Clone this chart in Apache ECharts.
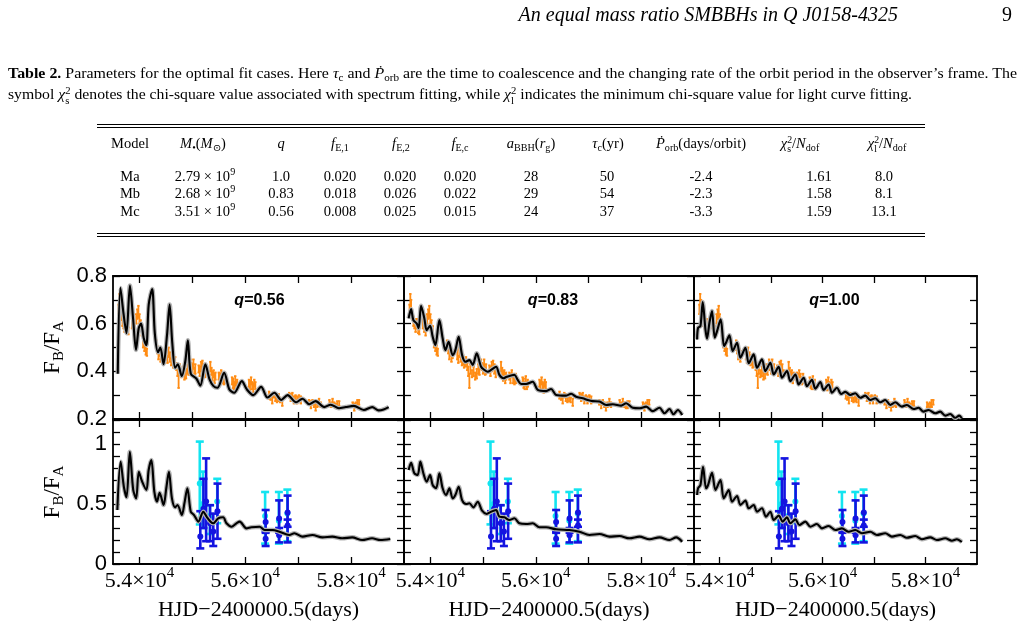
<!DOCTYPE html>
<html>
<head>
<meta charset="utf-8">
<title>Equal mass ratio SMBBHs in Q J0158-4325</title>
<script src="https://cdn.jsdelivr.net/npm/echarts@6/dist/echarts.min.js"></script>
<style>
html,body{margin:0;padding:0;background:#fff;}
#page{position:relative;width:1025px;height:637px;overflow:hidden;font-family:"Liberation Serif","DejaVu Serif",serif;color:#000;}
#chart{position:absolute;left:0;top:0;width:1025px;height:637px;z-index:1;}
.t{position:absolute;white-space:nowrap;z-index:2;line-height:18px;font-size:14.5px;}
.c{transform:translateX(-50%);}
.cap{font-size:15.5px;transform-origin:0 50%;}
.rule{position:absolute;left:97px;width:828px;height:0;border-top:1px solid #000;z-index:2;}
sub,sup{font-size:0.7em;line-height:0;}
sub{vertical-align:-0.3em;}
sup{vertical-align:0.55em;}
.ss{display:inline-block;font-size:0.68em;line-height:0.95em;vertical-align:-0.45em;text-align:left;}
</style>
</head>
<body>
<div id="page">
  <div id="chart"></div>
  <div class="t" style="right:127px;top:2px;font-size:20px;line-height:24px;font-style:italic;">An equal mass ratio SMBBHs in Q J0158-4325</div>
  <div class="t" style="right:13px;top:2px;font-size:20px;line-height:24px;">9</div>
  <div class="t cap" id="cap1" style="left:8px;top:64px;"><b>Table 2.</b> Parameters for the optimal fit cases. Here <i>τ</i><sub>c</sub> and <i>Ṗ</i><sub>orb</sub> are the time to coalescence and the changing rate of the orbit period in the observer’s frame. The</div>
  <div class="t cap" id="cap2" style="left:8px;top:85px;">symbol <i>χ</i><span class="ss">2<br>s</span> denotes the chi-square value associated with spectrum fitting, while <i>χ</i><span class="ss">2<br>l</span> indicates the minimum chi-square value for light curve fitting.</div>
  <div class="rule" style="top:124px;"></div>
  <div class="rule" style="top:127px;"></div>
  <div class="rule" style="top:233px;"></div>
  <div class="rule" style="top:236px;"></div>
  <div id="table"></div>
</div>
<script>
// ---------------- table values ----------------
const tableHead = ['Model', '<i>M</i><sub>•</sub>(<i>M</i><sub>⊙</sub>)', '<i>q</i>', '<i>f</i><sub>E,1</sub>', '<i>f</i><sub>E,2</sub>', '<i>f</i><sub>E,c</sub>', '<i>a</i><sub>BBH</sub>(<i>r</i><sub>g</sub>)', '<i>τ</i><sub>c</sub>(yr)', '<i>Ṗ</i><sub>orb</sub>(days/orbit)', '<i>χ</i><span class="ss">2<br>s</span>/<i>N</i><sub>dof</sub>', '<i>χ</i><span class="ss">2<br>l</span>/<i>N</i><sub>dof</sub>'];
const modelNames = ['Ma', 'Mb', 'Mc'];
const massMantissa = ['2.79', '2.68', '3.51'];
const massExponent = ['9', '9', '9'];
const qValues = ['1.0', '0.83', '0.56'];
const fE1 = ['0.020', '0.018', '0.008'];
const fE2 = ['0.020', '0.026', '0.025'];
const fEc = ['0.020', '0.022', '0.015'];
const aBBH = ['28', '29', '24'];
const tauC = ['50', '54', '37'];
const pDot = ['-2.4', '-2.3', '-3.3'];
const chiS = ['1.61', '1.58', '1.59'];
const chiL = ['8.0', '8.1', '13.1'];

// ---------------- chart values ----------------
const xTicks = [54000, 55000, 56000, 57000, 58000];
const xLabelValues = [54000, 56000, 58000];
const panelQ = ['0.56', '0.83', '1.00'];

// model light-curve ratio (top row)
const lcModel056 = [[53590,0.39],[53640,0.75],[53700,0.64],[53755,0.56],[53820,0.76],[53880,0.62],[53935,0.49],[53985,0.58],[54030,0.60],[54080,0.54],[54130,0.51],[54175,0.68],[54240,0.745],[54290,0.56],[54350,0.48],[54395,0.50],[54455,0.43],[54520,0.55],[54570,0.68],[54620,0.52],[54675,0.415],[54725,0.43],[54800,0.38],[54865,0.44],[54915,0.53],[54970,0.39],[55075,0.37],[55150,0.34],[55245,0.43],[55325,0.366],[55400,0.338],[55475,0.331],[55600,0.394],[55700,0.324],[55790,0.31],[55935,0.359],[56030,0.324],[56150,0.30],[56300,0.335],[56420,0.29],[56550,0.31],[56680,0.28],[56800,0.30],[56960,0.27],[57080,0.285],[57210,0.262],[57330,0.275],[57490,0.25],[57615,0.26],[57770,0.245],[57900,0.25],[58050,0.255],[58240,0.238],[58400,0.25],[58520,0.236],[58615,0.24],[58710,0.25]];
const lcModel083 = [[53588,0.622],[53634,0.661],[53677,0.615],[53740,0.601],[53778,0.581],[53824,0.675],[53886,0.622],[53930,0.573],[53994,0.591],[54044,0.545],[54095,0.51],[54171,0.615],[54233,0.539],[54285,0.489],[54347,0.524],[54423,0.468],[54474,0.489],[54537,0.545],[54602,0.468],[54664,0.44],[54740,0.447],[54803,0.427],[54879,0.476],[54962,0.419],[55025,0.406],[55087,0.398],[55152,0.406],[55247,0.419],[55309,0.385],[55385,0.371],[55448,0.377],[55594,0.385],[55657,0.364],[55721,0.347],[55816,0.347],[55941,0.356],[56036,0.322],[56195,0.317],[56290,0.326],[56385,0.301],[56575,0.298],[56670,0.306],[56765,0.293],[56890,0.287],[56985,0.28],[57080,0.275],[57207,0.273],[57334,0.259],[57459,0.262],[57619,0.256],[57713,0.266],[57839,0.247],[57966,0.245],[58093,0.252],[58218,0.233],[58345,0.247],[58440,0.224],[58535,0.242],[58611,0.22],[58693,0.238],[58776,0.217]];
const lcModel100 = [[53560,0.534],[53579,0.583],[53625,0.59],[53670,0.691],[53722,0.576],[53753,0.537],[53800,0.604],[53850,0.653],[53903,0.541],[53948,0.569],[54019,0.618],[54083,0.506],[54122,0.52],[54188,0.551],[54252,0.485],[54336,0.52],[54402,0.457],[54499,0.499],[54563,0.434],[54660,0.471],[54724,0.415],[54821,0.45],[54887,0.401],[54984,0.436],[55049,0.387],[55146,0.419],[55210,0.373],[55307,0.401],[55373,0.359],[55470,0.387],[55534,0.345],[55631,0.373],[55695,0.338],[55792,0.364],[55858,0.327],[55955,0.355],[56019,0.322],[56117,0.345],[56181,0.31],[56278,0.331],[56360,0.305],[56441,0.314],[56538,0.301],[56635,0.308],[56732,0.289],[56829,0.298],[56926,0.28],[57023,0.287],[57120,0.27],[57217,0.28],[57315,0.259],[57412,0.27],[57540,0.252],[57637,0.259],[57767,0.242],[57864,0.247],[57961,0.231],[58058,0.238],[58188,0.224],[58285,0.231],[58383,0.214],[58480,0.221],[58577,0.205],[58654,0.214],[58705,0.203]];

// model spectral ratio (bottom row)
const spModel056 = [[53582,0.45],[53644,0.853],[53705,0.644],[53756,0.556],[53818,0.936],[53882,0.617],[53938,0.547],[53987,0.769],[54051,0.686],[54131,0.617],[54174,0.783],[54225,0.867],[54281,0.603],[54332,0.519],[54381,0.594],[54456,0.492],[54507,0.631],[54557,0.769],[54614,0.547],[54675,0.472],[54719,0.492],[54801,0.408],[54850,0.506],[54906,0.631],[54970,0.436],[55032,0.408],[55113,0.353],[55206,0.436],[55270,0.394],[55345,0.353],[55394,0.339],[55488,0.381],[55582,0.389],[55645,0.339],[55739,0.311],[55833,0.339],[55895,0.353],[56021,0.297],[56115,0.306],[56270,0.311],[56364,0.283],[56520,0.283],[56645,0.269],[56833,0.242],[56927,0.256],[57083,0.228],[57270,0.242],[57458,0.222],[57645,0.228],[57833,0.214],[58021,0.222],[58208,0.2],[58396,0.214],[58553,0.2],[58741,0.208]];
const spModel083 = [[53588,0.783],[53634,0.844],[53696,0.756],[53759,0.742],[53810,0.853],[53867,0.756],[53930,0.686],[53994,0.742],[54044,0.658],[54108,0.631],[54171,0.756],[54233,0.631],[54298,0.575],[54361,0.631],[54423,0.547],[54474,0.575],[54537,0.644],[54602,0.533],[54677,0.5],[54740,0.506],[54816,0.472],[54898,0.519],[54981,0.444],[55068,0.417],[55152,0.436],[55247,0.45],[55309,0.394],[55404,0.389],[55499,0.367],[55594,0.381],[55689,0.339],[55816,0.333],[55941,0.339],[56068,0.306],[56195,0.306],[56385,0.289],[56638,0.283],[56827,0.269],[57017,0.242],[57207,0.25],[57397,0.228],[57586,0.233],[57776,0.214],[57966,0.228],[58156,0.206],[58345,0.222],[58535,0.2],[58662,0.222],[58776,0.186]];
const spModel100 = [[53560,0.575],[53579,0.631],[53625,0.658],[53676,0.811],[53734,0.631],[53773,0.658],[53850,0.761],[53917,0.617],[54014,0.7],[54078,0.547],[54175,0.617],[54239,0.519],[54336,0.567],[54402,0.492],[54499,0.528],[54563,0.464],[54660,0.492],[54724,0.436],[54821,0.464],[54899,0.394],[54984,0.436],[55049,0.367],[55146,0.403],[55223,0.353],[55307,0.389],[55373,0.339],[55470,0.372],[55548,0.325],[55664,0.353],[55761,0.311],[55889,0.333],[55986,0.297],[56117,0.317],[56247,0.283],[56375,0.297],[56505,0.269],[56635,0.283],[56763,0.256],[56926,0.269],[57054,0.242],[57217,0.256],[57346,0.228],[57509,0.242],[57637,0.219],[57800,0.233],[57928,0.206],[58091,0.222],[58219,0.2],[58383,0.214],[58511,0.194],[58608,0.206],[58705,0.183]];

// observed light-curve ratio (orange)
const obsT = [53605,53620,53635,53650,53665,53680,53700,53720,53745,53770,53790,
  53860,53885,53910,53940,53960,53980,54000,54020,54045,54070,54095,54120,54140,
  54320,54340,54360,54380,54400,54420,
  54510,54530,54550,54575,54600,54620,54640,
  54675,54700,54720,54740,54760,54790,54820,54850,54880,54910,54930,
  54960,54980,55000,55020,55040,55055,
  55120,55140,55165,55190,55215,55240,
  55340,55360,55380,55400,55420,55435,
  55500,55520,55545,55570,55595,55620,
  55750,55770,55790,55810,55830,55845,
  56070,56090,56110,56130,56150,56170,56190,
  56450,56480,56510,56540,56570,56600,56630,56660,56700,
  56830,56860,56890,56920,56950,56980,57015,57050,
  57205,57240,57270,57300,57330,57360,57395,57425,
  57590,57620,57650,57680,57710,57740,57775,
  58030,58060,58090,58120,58150];
const obsF = [0.66,0.70,0.68,0.64,0.63,0.61,0.60,0.58,0.60,0.58,0.57,
  0.60,0.58,0.57,0.62,0.64,0.65,0.62,0.60,0.57,0.52,0.50,0.49,0.48,
  0.51,0.49,0.47,0.48,0.46,0.47,
  0.47,0.45,0.48,0.46,0.44,0.45,0.43,
  0.44,0.42,0.40,0.36,0.41,0.39,0.40,0.38,0.39,0.41,0.40,
  0.43,0.42,0.41,0.43,0.40,0.41,
  0.41,0.40,0.42,0.43,0.41,0.39,
  0.42,0.40,0.38,0.39,0.37,0.38,
  0.38,0.37,0.39,0.37,0.36,0.37,
  0.36,0.35,0.34,0.36,0.34,0.35,
  0.35,0.34,0.36,0.34,0.33,0.35,0.34,
  0.30,0.29,0.28,0.30,0.29,0.28,0.29,0.28,0.27,
  0.30,0.29,0.30,0.28,0.29,0.28,0.29,0.28,
  0.27,0.26,0.27,0.26,0.25,0.26,0.27,0.26,
  0.27,0.26,0.27,0.26,0.255,0.26,0.265,
  0.26,0.25,0.26,0.265,0.27];
const obsE = [0.02,0.025,0.02,0.02,0.015,0.02,0.02,0.015,0.02,0.02,0.015,
  0.02,0.015,0.02,0.02,0.02,0.025,0.02,0.015,0.02,0.02,0.015,0.02,0.015,
  0.02,0.015,0.02,0.015,0.02,0.015,
  0.02,0.015,0.02,0.02,0.015,0.02,0.015,
  0.02,0.015,0.02,0.03,0.02,0.015,0.02,0.015,0.02,0.02,0.015,
  0.02,0.015,0.02,0.02,0.015,0.02,
  0.015,0.02,0.02,0.015,0.02,0.015,
  0.02,0.015,0.02,0.015,0.02,0.015,
  0.015,0.02,0.015,0.02,0.015,0.02,
  0.015,0.02,0.015,0.02,0.015,0.015,
  0.015,0.02,0.015,0.015,0.02,0.015,0.015,
  0.015,0.01,0.015,0.01,0.015,0.01,0.015,0.01,0.015,
  0.01,0.015,0.01,0.015,0.01,0.015,0.01,0.015,
  0.01,0.015,0.01,0.01,0.015,0.01,0.015,0.01,
  0.01,0.01,0.015,0.01,0.01,0.015,0.01,
  0.01,0.015,0.01,0.015,0.01];

// spectroscopic ratios (bottom row)
const cyanT  = [55140, 55200, 55330, 55470, 56375, 56635, 56795];
const cyanF  = [0.67, 0.50, 0.40, 0.52, 0.40, 0.36, 0.42];
const cyanLo = [0.33, 0.30, 0.25, 0.34, 0.17, 0.17, 0.19];
const cyanHi = [1.02, 0.77, 0.49, 0.71, 0.60, 0.60, 0.62];
const blueT  = [55150, 55210, 55260, 55335, 55395, 55475, 56385, 56385, 56640, 56640, 56800, 56800];
const blueF  = [0.23, 0.46, 0.52, 0.34, 0.27, 0.44, 0.35, 0.21, 0.38, 0.24, 0.43, 0.32];
const blueLo = [0.13, 0.30, 0.19, 0.19, 0.15, 0.21, 0.26, 0.15, 0.26, 0.18, 0.31, 0.18];
const blueHi = [0.44, 0.71, 0.88, 0.49, 0.42, 0.67, 0.45, 0.27, 0.53, 0.30, 0.57, 0.37];

// ---------------- build the table ----------------
(function buildTable() {
  const tb = document.getElementById('table');
  const headX = [130, 203, 281, 340, 401, 460, 531, 608, 701, 800, 887];
  const valX = [130, 205, 281, 340, 400, 460, 531, 607, 701, 819, 884];
  const rowY = [176, 193, 211];
  function cell(html, cx, cy) {
    const d = document.createElement('div');
    d.className = 't c';
    d.style.left = cx + 'px';
    d.style.top = (cy - 9) + 'px';
    d.innerHTML = html;
    tb.appendChild(d);
  }
  tableHead.forEach((h, i) => cell(h, headX[i], 143));
  for (let r = 0; r < modelNames.length; r++) {
    const vals = [modelNames[r], massMantissa[r] + ' × 10<sup>' + massExponent[r] + '</sup>', qValues[r], fE1[r], fE2[r], fEc[r], aBBH[r], tauC[r], pDot[r], chiS[r], chiL[r]];
    vals.forEach((v, i) => cell(v, valX[i], rowY[r]));
  }
  function fit(id, target) {
    const el = document.getElementById(id);
    const w = el.getBoundingClientRect().width;
    el.style.transform = 'scaleX(' + (target / w) + ')';
  }
  fit('cap1', 1009);
  fit('cap2', 904);
})();

// ---------------- chart ----------------
const chart = echarts.init(document.getElementById('chart'), null, {renderer: 'canvas'});
const colsPx = [[113, 291], [404, 290], [694, 283]];
const rowsPx = [[276, 143], [420, 144]];
const topModels = [lcModel056, lcModel083, lcModel100];
const botModels = [spModel056, spModel083, spModel100];

function errorBars(color, lw, cap, dot) {
  return function (params, api) {
    const t = api.value(0), f = api.value(1), lo = api.value(2), hi = api.value(3);
    const pc = api.coord([t, f]), pl = api.coord([t, lo]), ph = api.coord([t, hi]);
    const st = {stroke: color, lineWidth: lw};
    const ch = [{type: 'line', shape: {x1: pc[0], y1: pl[1], x2: pc[0], y2: ph[1]}, style: st}];
    if (cap > 0) {
      ch.push({type: 'line', shape: {x1: pc[0] - cap, y1: pl[1], x2: pc[0] + cap, y2: pl[1]}, style: st});
      ch.push({type: 'line', shape: {x1: pc[0] - cap, y1: ph[1], x2: pc[0] + cap, y2: ph[1]}, style: st});
    }
    if (dot > 0) ch.push({type: 'circle', shape: {cx: pc[0], cy: pc[1], r: dot}, style: {fill: color}});
    return {type: 'group', children: ch};
  };
}

const obsData = obsT.map((t, i) => [t, obsF[i], obsF[i] - obsE[i], obsF[i] + obsE[i]]);
const cyanData = cyanT.map((t, i) => [t, cyanF[i], cyanLo[i], cyanHi[i]]);
const blueData = blueT.map((t, i) => [t, blueF[i], blueLo[i], blueHi[i]]);

const grids = [], xAxes = [], yAxes = [], series = [], graphics = [];
const axLine = {show: true, onZero: false, lineStyle: {color: '#000', width: 1.8}};
const tickStyle = {color: '#000', width: 1.3};

for (let r = 0; r < 2; r++) {
  for (let c = 0; c < 3; c++) {
    const g = r * 3 + c;
    grids.push({left: colsPx[c][0], top: rowsPx[r][0], width: colsPx[c][1], height: rowsPx[r][1], show: false});
    const xBase = {
      type: 'value', gridIndex: g, min: 53500, max: 59000,
      axisLine: axLine, splitLine: {show: false},
      axisTick: {show: true, inside: true, length: 7, customValues: xTicks, lineStyle: tickStyle}
    };
    xAxes.push(Object.assign({}, xBase, {
      position: 'bottom',
      axisLabel: r === 1 ? {
        show: true, customValues: xLabelValues, margin: 2, color: '#000',
        formatter: v => '{a|' + (v / 1e4).toFixed(1) + '×10}{s|4}',
        rich: {
          a: {fontFamily: 'Liberation Serif', fontSize: 22, lineHeight: 30, color: '#000'},
          s: {fontFamily: 'Liberation Serif', fontSize: 15, lineHeight: 15, verticalAlign: 'top', color: '#000'}
        }
      } : {show: false},
      name: r === 1 ? 'HJD−2400000.5(days)' : '',
      nameLocation: 'middle', nameGap: 35,
      nameTextStyle: {fontFamily: 'Liberation Serif', fontSize: 22, color: '#000'}
    }));
    xAxes.push(Object.assign({}, xBase, {position: 'top', axisLabel: {show: false}}));

    const yRange = r === 0 ? {min: 0.2, max: 0.8, interval: 0.1} : {min: 0, max: 1.2, interval: 0.1};
    const yBase = Object.assign({
      type: 'value', gridIndex: g, axisLine: axLine, splitLine: {show: false},
      axisTick: {show: true, inside: true, length: 7, lineStyle: tickStyle}
    }, yRange);
    const yFmt = r === 0
      ? (v => { const k = Math.round(v * 10); return k % 2 === 0 ? (k / 10).toFixed(1) : ''; })
      : (v => { const k = Math.round(v * 10); return k === 0 ? '0' : k === 5 ? '0.5' : k === 10 ? '1' : ''; });
    yAxes.push(Object.assign({}, yBase, {
      position: 'left',
      axisLabel: c === 0 ? {show: true, formatter: yFmt, fontFamily: 'Liberation Sans', fontSize: 22, color: '#000', margin: 6} : {show: false},
      name: c === 0 ? '{f|F}{s|B}{f|/F}{s|A}' : '',
      nameLocation: 'middle', nameRotate: 90, nameGap: 46,
      nameTextStyle: {
        rich: {
          f: {fontFamily: 'Liberation Serif', fontSize: 23, lineHeight: 28, color: '#000'},
          s: {fontFamily: 'Liberation Serif', fontSize: 15, lineHeight: 15, verticalAlign: 'bottom', color: '#000'}
        }
      }
    }));
    yAxes.push(Object.assign({}, yBase, {position: 'right', axisLabel: {show: false}}));

    const xi = 2 * g, yi = 2 * g;
    if (r === 0) {
      series.push({type: 'custom', xAxisIndex: xi, yAxisIndex: yi, data: obsData, clip: true, silent: true,
        encode: {x: 0, y: [1, 2, 3]}, renderItem: errorBars('#ff8c14', 1.8, 1.2, 0)});
      series.push({type: 'line', xAxisIndex: xi, yAxisIndex: yi, data: topModels[c], showSymbol: false, smooth: 0.3,
        lineStyle: {color: '#b4b4b4', width: 4.5}, silent: true, clip: true});
      series.push({type: 'line', xAxisIndex: xi, yAxisIndex: yi, data: topModels[c], showSymbol: false, smooth: 0.3,
        lineStyle: {color: '#000', width: 2.1}, silent: true, clip: true});
      const cx = colsPx[c][0] + colsPx[c][1] / 2 + (c === 0 ? 1 : c === 1 ? 4 : -1);
      graphics.push({type: 'text', x: cx, y: 301, z: 100, style: {
        text: '{q|q}{n|=' + panelQ[c] + '}', align: 'center', verticalAlign: 'middle',
        rich: {
          q: {fontFamily: 'Liberation Sans', fontSize: 16, fontWeight: 'bold', fontStyle: 'italic', fill: '#000'},
          n: {fontFamily: 'Liberation Sans', fontSize: 16, fontWeight: 'bold', fill: '#000'}
        }
      }});
    } else {
      series.push({type: 'line', xAxisIndex: xi, yAxisIndex: yi, data: botModels[c], showSymbol: false, smooth: 0.3,
        lineStyle: {color: '#b4b4b4', width: 4.5}, silent: true, clip: true});
      series.push({type: 'line', xAxisIndex: xi, yAxisIndex: yi, data: botModels[c], showSymbol: false, smooth: 0.3,
        lineStyle: {color: '#000', width: 2.1}, silent: true, clip: true});
      series.push({type: 'custom', xAxisIndex: xi, yAxisIndex: yi, data: cyanData, clip: true, silent: true,
        encode: {x: 0, y: [1, 2, 3]}, renderItem: errorBars('#12e4f0', 2.6, 4, 3)});
      series.push({type: 'custom', xAxisIndex: xi, yAxisIndex: yi, data: blueData, clip: true, silent: true,
        encode: {x: 0, y: [1, 2, 3]}, renderItem: errorBars('#1414e0', 2.6, 4, 3)});
    }
  }
}

chart.setOption({
  animation: false,
  backgroundColor: 'transparent',
  grid: grids,
  xAxis: xAxes,
  yAxis: yAxes,
  series: series,
  graphic: graphics
});
</script>
</body>
</html>
